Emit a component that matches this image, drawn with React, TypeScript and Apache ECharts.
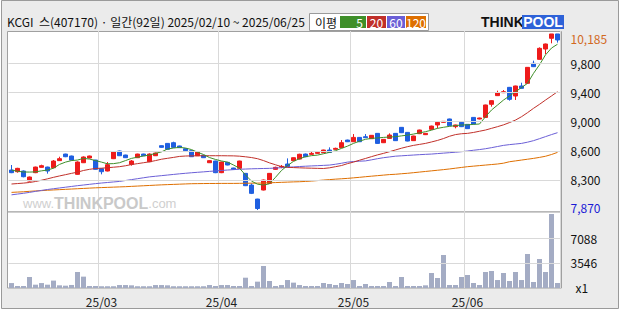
import React, { useEffect, useRef } from 'react';
import * as echarts from 'echarts';

const dates = [
  '02/10','02/11','02/12','02/13','02/14','02/17','02/18','02/19','02/20','02/21','02/24','02/25','02/26','02/27','02/28',
  '03/04','03/05','03/06','03/07','03/10','03/11','03/12','03/13','03/14','03/17','03/18','03/19','03/20','03/21','03/24','03/25','03/26','03/27','03/28','03/31',
  '04/01','04/02','04/03','04/04','04/07','04/08','04/09','04/10','04/11','04/14','04/15','04/16','04/17','04/18','04/21','04/22','04/23','04/24','04/25','04/28','04/29','04/30',
  '05/02','05/07','05/08','05/09','05/12','05/13','05/14','05/15','05/16','05/19','05/20','05/21','05/22','05/23','05/26','05/27','05/28','05/29','05/30',
  '06/02','06/04','06/05','06/09','06/10','06/11','06/12','06/13','06/16','06/17','06/18','06/19','06/20','06/23','06/24','06/25'
];

const opens = [8396,8374,8383,8251,8361,8431,8435,8426,8519,8606, 8580,8339,8492,8554,8527,8413,8383,8545,8646,8593,
  8470,8558,8606,8505,8584,8716,8746,8755,8712,8676, 8650,8584,8589,8492,8514,8361,8497,8422,8418,8352,
  8198,8014,8133,8220,8405,8436,8475,8519,8540,8606, 8602,8615,8624,8659,8668,8690,8790,8768,8825,8834,
  8808,8878,8755,8812,8878,8957,8891,8782,8874,8861, 8931,8988,9023,9067,8966,9023,8996,9088,9067,9088,
  9260,9374,9413,9483,9369,9501,9536,9799,9851,9987, 10128,10185];
const closes = [8361,8418,8308,8304,8435,8453,8383,8514,8545,8571, 8527,8501,8567,8580,8405,8374,8466,8637,8584,8558,
  8514,8606,8584,8606,8619,8694,8668,8694,8690,8650, 8571,8633,8558,8519,8361,8501,8462,8405,8514,8190,
  8089,7890,8264,8352,8431,8444,8440,8558,8603,8571, 8615,8628,8659,8628,8681,8755,8768,8825,8768,8821,
  8852,8746,8799,8856,8782,8887,8777,8843,8922,8878, 8974,9023,9036,8979,8988,8966,8940,9001,9080,9251,
  9308,9413,9426,9325,9501,9470,9746,9755,9996,10053, 10185,10106];
const lows = [8355,8361,8300,8245,8355,8428,8348,8420,8515,8565, 8520,8335,8488,8550,8400,8339,8378,8540,8580,8554,
  8453,8554,8580,8500,8580,8690,8665,8690,8686,8646, 8567,8580,8554,8488,8355,8355,8458,8400,8413,8185,
  8080,7870,8128,8215,8400,8420,8436,8515,8535,8565, 8598,8610,8620,8624,8665,8686,8764,8764,8764,8817,
  8804,8742,8751,8808,8778,8882,8773,8778,8869,8856, 8926,8944,9018,8975,8944,8961,8935,8996,9062,9084,
  9229,9369,9408,9308,9317,9466,9531,9750,9847,9921, 10062,10071];
const highs = [8462,8425,8390,8310,8440,8466,8440,8527,8571,8610, 8585,8510,8575,8585,8530,8418,8501,8642,8650,8597,
  8527,8610,8610,8615,8625,8720,8750,8768,8716,8680, 8655,8637,8593,8523,8518,8505,8501,8426,8518,8357,
  8220,8018,8270,8357,8440,8462,8549,8562,8610,8612, 8637,8633,8663,8694,8690,8790,8795,8869,8830,8869,
  8856,8882,8803,8878,8882,8961,8895,8847,8926,8882, 8979,9028,9040,9071,8992,9028,9000,9093,9084,9255,
  9312,9439,9448,9488,9505,9544,9750,9834,10009,10058, 10185,10185];
const volumes = [700,280,280,1560,470,700,470,1050,380,330, 430,2270,1610,280,280,250,250,250,420,420,
  380,250,250,250,420,420,380,250,250,250, 250,250,250,420,280,420,420,280,280,1460,
  280,900,3120,990,280,420,1130,760,420,280, 280,280,710,570,425,710,570,1130,280,570,
  280,280,280,850,280,1560,280,280,280,380, 2130,1420,4680,425,425,1560,1840,710,425,2270,
  2410,1130,2130,990,2270,1130,4820,850,4110,2270, 10490,710];

const ma5 = [8396,8380,8370,8369,8372,8385,8396,8420,8470,8500, 8520,8527,8549,8540,8520,8500,8478,8480,8492,8520,
  8549,8565,8580,8593,8615,8635,8672,8685,8694,8685, 8665,8630,8600,8560,8535,8515,8500,8462,8420,8330,
  8250,8210,8198,8215,8300,8390,8455,8510,8545,8571, 8585,8592,8610,8628,8650,8681,8710,8746,8775,8800,
  8812,8818,8825,8830,8834,8845,8855,8869,8885,8900, 8920,8944,8958,8970,8980,8988,8990,8996,9001,9097,
  9185,9250,9316,9370,9426,9480,9536,9667,9780,9910, 10000,10050];
const ma20 = [8212,8218,8224,8232,8245,8262,8280,8300,8318,8335, 8352,8368,8390,8405,8416,8420,8426,8433,8440,8452,
  8468,8480,8492,8504,8520,8538,8550,8562,8575,8580, 8582,8583,8584,8584,8584,8584,8583,8582,8578,8570,
  8560,8545,8520,8490,8465,8440,8432,8428,8425,8422, 8420,8418,8416,8425,8440,8455,8480,8500,8525,8548,
  8572,8595,8615,8637,8660,8683,8703,8720,8733,8746, 8765,8785,8810,8840,8862,8873,8878,8890,8906,8922,
  8944,8966,8990,9020,9053,9097,9150,9207,9260,9316, 9370,9426];
const ma60 = [8070,8080,8090,8102,8115,8128,8140,8150,8160,8170, 8180,8190,8199,8208,8217,8225,8232,8239,8246,8258,
  8270,8282,8294,8306,8314,8322,8330,8338,8346,8353, 8360,8366,8372,8378,8384,8390,8396,8401,8406,8409,
  8412,8414,8416,8418,8422,8427,8432,8437,8442,8446, 8450,8453,8457,8461,8472,8485,8500,8508,8512,8516,
  8530,8545,8558,8568,8578,8583,8588,8593,8598,8602, 8606,8612,8618,8624,8630,8637,8646,8656,8665,8676,
  8690,8705,8720,8730,8738,8746,8762,8782,8808,8835, 8862,8887];
const ma120 = [8102,8106,8110,8116,8121,8125,8130,8134,8138,8142, 8146,8150,8154,8158,8162,8165,8168,8171,8174,8177,
  8181,8185,8189,8193,8197,8201,8204,8207,8210,8213, 8216,8217,8218,8219,8219,8220,8220,8220,8221,8222,
  8223,8224,8225,8228,8231,8234,8237,8240,8242,8246, 8251,8257,8264,8270,8276,8281,8286,8293,8300,8308,
  8315,8322,8329,8336,8340,8347,8353,8361,8369,8377, 8385,8393,8401,8410,8420,8430,8440,8447,8454,8461,
  8468,8475,8486,8505,8516,8527,8538,8549,8562,8577, 8600,8628];

const priceGridValues = [9799, 9418, 9036, 8648, 8265];
const priceTickLabels = ['9,800', '9,400', '9,000', '8,600', '8,300'];
const volGridValues = [3546, 7088];

const FONT = "'Noto Sans CJK KR', 'Noto Sans', sans-serif";
const UP = '#ee1b1b';
const DOWN = '#1f5fe0';
const GRID_C = '#d9d9d9';

export default function App() {
  const ref = useRef<HTMLDivElement>(null);
  useEffect(() => {
    document.body.style.margin = '0';
    const chart = echarts.init(ref.current!, null, { renderer: 'svg' });
    const isMonthStart = (i: number) => i > 0 && dates[i].slice(0, 2) !== dates[i - 1].slice(0, 2);
    const maxHigh = Math.max(...highs);
    const minLow = Math.min(...lows);
    const fmt = (v: number) => v.toLocaleString('en-US');
    const candles = dates.map((_, i) => [opens[i], closes[i], lows[i], highs[i]]);

    const left = 8.5, width = 552;
    const option: any = {
      animation: false,
      backgroundColor: 'transparent',
      textStyle: { fontFamily: FONT },
      grid: [
        { left, top: 31, width, height: 181 },
        { left, top: 212, width, height: 76 },
      ],
      xAxis: [0, 1].map((g) => ({
        type: 'category', gridIndex: g, data: dates, boundaryGap: true,
        axisLine: { show: false }, axisTick: { show: false },
        axisLabel: g === 1 ? {
          show: true, interval: (i: number) => isMonthStart(i), margin: 7,
          formatter: (v: string) => '25/' + v.slice(0, 2), color: '#222', fontSize: 12, fontFamily: FONT,
        } : { show: false },
        splitLine: { show: true, interval: (i: number) => isMonthStart(i), lineStyle: { color: GRID_C, width: 1 } },
      })),
      yAxis: [
        { type: 'value', gridIndex: 0, min: 7844, max: 10224, show: true, axisLine: { show: false }, axisTick: { show: false }, axisLabel: { show: false }, splitLine: { show: false } },
        { type: 'value', gridIndex: 1, min: 0, max: 10774, show: true, axisLine: { show: false }, axisTick: { show: false }, axisLabel: { show: false }, splitLine: { show: false } },
      ],
      graphic: [
        { type: 'rect', z: -20, shape: { x: 1.5, y: 0.5, width: 617, height: 308 }, style: { fill: '#ebebeb', stroke: '#9a9a9a', lineWidth: 1 } },
        { type: 'rect', z: -10, shape: { x: 7.5, y: 31.5, width: 554, height: 180.5 }, style: { fill: '#ffffff', stroke: '#a0a0a0', lineWidth: 1 } },
        { type: 'rect', z: -10, shape: { x: 7.5, y: 212, width: 554, height: 76 }, style: { fill: '#ffffff', stroke: '#a0a0a0', lineWidth: 1 } },
        { type: 'text', z: 1, x: 23, y: 203, style: { text: '{a|www.}{b|THINKPOOL}{a|.com}', verticalAlign: 'middle', rich: {
          a: { fontSize: 13, fill: '#cfcfcf', fontFamily: 'Liberation Sans' },
          b: { fontSize: 16, fill: '#c9c9c9', fontWeight: 'bold', fontFamily: 'Liberation Sans' } } } },
        { type: 'text', z: 100, x: 7, y: 21, style: { text: 'KCGI  스(407170) · 일간(92일) 2025/02/10 ~ 2025/06/25', fill: '#111', fontSize: 12, fontFamily: FONT, verticalAlign: 'middle' } },
        { type: 'rect', z: 100, shape: { x: 309.5, y: 13.5, width: 119, height: 17 }, style: { fill: '#fff', stroke: '#9a9a9a', lineWidth: 1 } },
        { type: 'text', z: 101, x: 315, y: 22, style: { text: '이평', fill: '#111', fontSize: 12, fontFamily: FONT, verticalAlign: 'middle' } },
        { type: 'rect', z: 101, shape: { x: 340, y: 16, width: 26, height: 12 }, style: { fill: '#3f8f2a' } },
        { type: 'text', z: 102, x: 363, y: 22, style: { text: '5', fill: '#fff', fontSize: 12, fontFamily: FONT, align: 'right', verticalAlign: 'middle' } },
        { type: 'rect', z: 101, shape: { x: 367, y: 16, width: 19, height: 12 }, style: { fill: '#c0302a' } },
        { type: 'text', z: 102, x: 376.5, y: 22, style: { text: '20', fill: '#fff', fontSize: 12, fontFamily: FONT, align: 'center', verticalAlign: 'middle' } },
        { type: 'rect', z: 101, shape: { x: 387, y: 16, width: 18, height: 12 }, style: { fill: '#6b5fd6' } },
        { type: 'text', z: 102, x: 396, y: 22, style: { text: '60', fill: '#fff', fontSize: 12, fontFamily: FONT, align: 'center', verticalAlign: 'middle' } },
        { type: 'rect', z: 101, shape: { x: 406, y: 16, width: 20, height: 12 }, style: { fill: '#de6f00' } },
        { type: 'text', z: 102, x: 416, y: 22, style: { text: '120', fill: '#fff', fontSize: 12, fontFamily: FONT, align: 'center', verticalAlign: 'middle' } },
        { type: 'text', z: 100, x: 481, y: 22, style: { text: 'THINK', fill: '#111', fontSize: 14, fontWeight: 'bold', fontFamily: 'Liberation Sans', verticalAlign: 'middle' } },
        { type: 'rect', z: 100, shape: { x: 522, y: 15, width: 42, height: 14 }, style: { fill: '#2e62d8' } },
        { type: 'text', z: 101, x: 543, y: 22, style: { text: 'POOL', fill: '#fff', fontSize: 14, fontWeight: 'bold', fontFamily: 'Liberation Sans', align: 'center', verticalAlign: 'middle' } },
      ],
      series: [
        {
          type: 'line', xAxisIndex: 0, yAxisIndex: 0, data: [], z: 1, silent: true,
          markLine: {
            silent: true, symbol: ['none', 'none'], animation: false,
            lineStyle: { color: GRID_C, type: 'solid', width: 1 },
            label: { show: true, position: 'end', distance: 10, color: '#111', fontSize: 12, fontFamily: FONT },
            data: [
              ...priceGridValues.map((v, k) => ({ yAxis: v, label: { formatter: priceTickLabels[k] } })),
              { yAxis: maxHigh, lineStyle: { color: 'transparent' }, label: { formatter: fmt(maxHigh), color: '#d2691e', offset: [0, 5] } },
              { yAxis: minLow, lineStyle: { color: 'transparent' }, label: { formatter: fmt(minLow), color: '#1a1ad6', offset: [0, -3] } },
            ],
          },
        },
        {
          type: 'line', xAxisIndex: 1, yAxisIndex: 1, data: [], z: 1, silent: true,
          markLine: {
            silent: true, symbol: ['none', 'none'], animation: false,
            lineStyle: { color: GRID_C, type: 'solid', width: 1 },
            label: { show: true, position: 'end', distance: 10, color: '#111', fontSize: 12, fontFamily: FONT },
            data: [
              ...volGridValues.map((v) => ({ yAxis: v, label: { formatter: String(v) } })),
              { yAxis: 0, lineStyle: { color: 'transparent' }, label: { formatter: 'x1', offset: [5, -1] } },
            ],
          },
        },
        {
          type: 'candlestick', xAxisIndex: 0, yAxisIndex: 0, data: candles, barWidth: 5,
          itemStyle: { color: UP, color0: DOWN, borderColor: UP, borderColor0: DOWN, borderWidth: 1 },
        },
        { type: 'line', xAxisIndex: 0, yAxisIndex: 0, data: ma120, symbol: 'none', lineStyle: { color: '#de6f00', width: 1 }, z: 3 },
        { type: 'line', xAxisIndex: 0, yAxisIndex: 0, data: ma60, symbol: 'none', lineStyle: { color: '#6b5fd6', width: 1 }, z: 3 },
        { type: 'line', xAxisIndex: 0, yAxisIndex: 0, data: ma20, symbol: 'none', lineStyle: { color: '#c0302a', width: 1 }, z: 3 },
        { type: 'line', xAxisIndex: 0, yAxisIndex: 0, data: ma5, symbol: 'none', lineStyle: { color: '#3f8f2a', width: 1 }, z: 3 },
        { type: 'bar', xAxisIndex: 1, yAxisIndex: 1, data: volumes, barWidth: 5, itemStyle: { color: '#a4acc4' } },
      ],
    };
    chart.setOption(option);
    return () => chart.dispose();
  }, []);
  return <div ref={ref} style={{ width: 620, height: 310 }} />;
}
